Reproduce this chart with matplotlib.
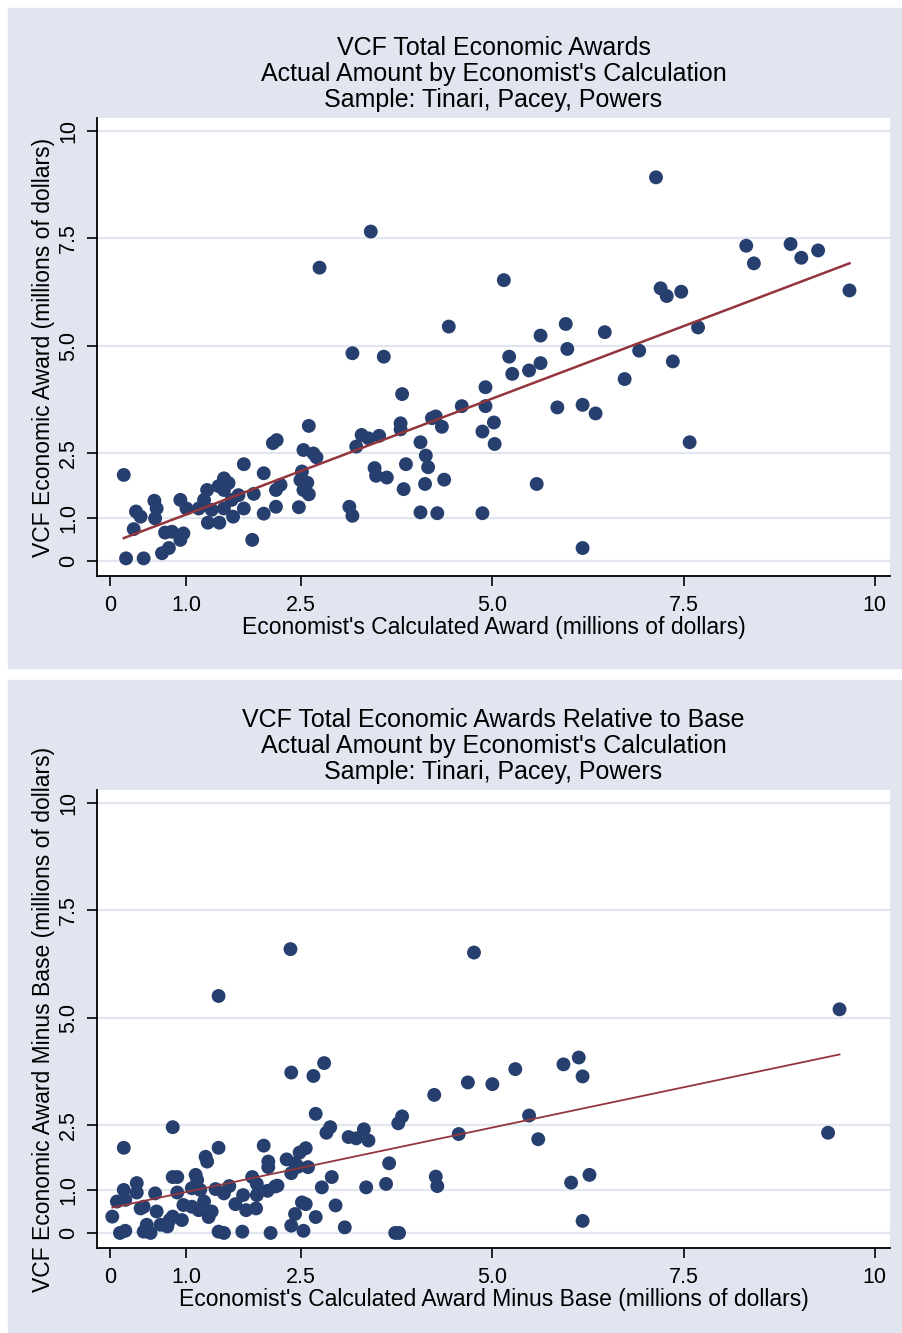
import matplotlib.pyplot as plt
from matplotlib.patches import Rectangle
import numpy as np

plt.rcParams['font.family'] = ['Liberation Sans', 'DejaVu Sans']

# top panel: economist's calculated award vs actual VCF award (millions of dollars)
calc_award = [0.18, 0.21, 0.44, 0.31, 0.34, 0.40, 0.58, 0.61, 0.59, 0.68,
              0.77, 0.72, 0.81, 0.92, 0.96, 0.92, 1.00, 1.16, 1.27, 1.23,
              1.33, 1.28, 1.43, 1.42, 1.49, 1.55, 1.49, 1.49, 1.59, 1.68,
              1.61, 1.75, 1.75, 1.86, 1.88, 2.01, 2.01, 2.18, 2.13, 2.17,
              2.23, 2.17, 2.47, 2.53, 2.60, 2.66, 2.70, 2.51, 2.49, 2.58,
              2.53, 2.60, 3.41, 2.74, 4.43, 5.15, 5.63, 3.17, 3.58, 5.22,
              5.63, 5.26, 5.48, 3.82, 4.91, 4.60, 4.91, 5.02, 4.87, 5.03,
              5.85, 3.80, 3.80, 4.21, 4.26, 4.34, 4.06, 4.13, 4.16, 4.12,
              4.37, 4.06, 4.28, 4.87, 5.58, 3.87, 3.84, 3.46, 3.48, 3.62,
              3.13, 3.17, 3.29, 3.38, 3.52, 3.22, 7.14, 8.32, 8.42, 8.90,
              9.04, 9.26, 9.67, 7.20, 7.28, 7.47, 7.69, 5.96, 6.47, 5.98,
              6.92, 7.36, 6.73, 6.18, 6.35, 7.58, 6.18]
vcf_award = [2.00, 0.06, 0.06, 0.74, 1.15, 1.03, 1.40, 1.22, 0.99, 0.18,
             0.30, 0.66, 0.68, 0.49, 0.64, 1.42, 1.22, 1.22, 1.65, 1.42,
             1.19, 0.89, 0.89, 1.74, 1.92, 1.81, 1.65, 1.22, 1.42, 1.53,
             1.03, 1.22, 2.25, 0.49, 1.56, 2.04, 1.10, 2.81, 2.74, 1.65,
             1.77, 1.26, 1.25, 2.58, 3.14, 2.50, 2.41, 2.08, 1.88, 1.82,
             1.65, 1.55, 7.66, 6.82, 5.45, 6.53, 5.24, 4.83, 4.75, 4.75,
             4.60, 4.35, 4.43, 3.88, 4.04, 3.60, 3.60, 3.22, 3.01, 2.72,
             3.57, 3.20, 3.06, 3.32, 3.36, 3.12, 2.76, 2.45, 2.18, 1.79,
             1.89, 1.13, 1.11, 1.11, 1.79, 2.25, 1.67, 2.16, 1.98, 1.94,
             1.26, 1.05, 2.93, 2.85, 2.91, 2.66, 8.92, 7.33, 6.92, 7.37,
             7.05, 7.22, 6.29, 6.34, 6.16, 6.26, 5.43, 5.51, 5.32, 4.93,
             4.89, 4.64, 4.23, 3.63, 3.43, 2.76, 0.30]

# bottom panel: same awards minus base
calc_minus_base = [0.82, 0.18, 1.42, 2.01, 1.25, 1.27, 2.07, 2.07, 0.35, 0.18,
                   0.35, 0.09, 0.20, 0.03, 0.40, 0.44, 0.59, 0.61, 0.82, 0.88,
                   0.88, 1.12, 1.14, 1.07, 1.18, 0.96, 1.07, 1.16, 1.23, 1.33,
                   1.29, 0.82, 0.78, 0.94, 0.66, 0.48, 0.44, 0.53, 0.13, 0.20,
                   0.75, 1.42, 1.49, 1.73, 2.10, 1.38, 1.49, 1.56, 1.74, 1.64,
                   1.78, 1.91, 1.86, 1.92, 1.92, 2.06, 2.16, 2.80, 2.37, 2.66,
                   4.24, 2.69, 3.82, 3.77, 2.88, 2.83, 3.32, 3.12, 3.22, 3.38,
                   4.56, 2.56, 2.48, 2.31, 2.42, 2.46, 2.59, 2.37, 3.65, 2.90,
                   2.77, 2.19, 3.35, 3.61, 4.26, 4.28, 2.51, 2.56, 2.95, 2.42,
                   2.69, 2.37, 2.53, 3.07, 3.73, 3.78, 4.68, 5.00, 5.30, 5.93,
                   6.13, 6.18, 5.48, 5.60, 6.03, 6.27, 6.18, 1.42, 2.36, 4.76,
                   9.54, 9.39]
vcf_minus_base = [2.46, 1.98, 1.98, 2.03, 1.77, 1.66, 1.66, 1.53, 1.16, 1.00,
                  0.94, 0.73, 0.77, 0.38, 0.57, 0.61, 0.92, 0.50, 1.30, 1.30,
                  0.94, 1.35, 1.23, 1.04, 1.00, 0.65, 0.61, 0.53, 0.73, 0.50,
                  0.37, 0.38, 0.30, 0.30, 0.19, 0.19, 0.03, 0.00, 0.00, 0.05,
                  0.15, 0.03, 0.00, 0.03, 0.00, 1.02, 0.92, 1.09, 0.88, 0.67,
                  0.53, 0.57, 1.30, 1.14, 0.88, 0.98, 1.08, 3.95, 3.73, 3.65,
                  3.21, 2.77, 2.71, 2.55, 2.46, 2.33, 2.41, 2.23, 2.20, 2.15,
                  2.30, 1.97, 1.87, 1.71, 1.62, 1.54, 1.53, 1.39, 1.62, 1.30,
                  1.06, 1.10, 1.06, 1.14, 1.31, 1.09, 0.71, 0.67, 0.64, 0.44,
                  0.37, 0.17, 0.05, 0.13, 0.00, 0.00, 3.50, 3.46, 3.81, 3.92,
                  4.08, 3.64, 2.73, 2.18, 1.17, 1.35, 0.28, 5.51, 6.60, 6.52,
                  5.20, 2.33]

tick_vals = [0, 1.0, 2.5, 5.0, 7.5, 10]
tick_text = ['0', '1.0', '2.5', '5.0', '7.5', '10']

titles = ["VCF Total Economic Awards\nActual Amount by Economist's Calculation\nSample: Tinari, Pacey, Powers",
          "VCF Total Economic Awards Relative to Base\nActual Amount by Economist's Calculation\nSample: Tinari, Pacey, Powers"]
xlabels = ["Economist's Calculated Award (millions of dollars)",
           "Economist's Calculated Award Minus Base (millions of dollars)"]
ylabels = ["VCF Economic Award (millions of dollars)",
           "VCF Economic Award Minus Base (millions of dollars)"]

navy = '#263f6e'
maroon = '#93353c'
bg = '#e0e5ef'
gridc = '#e2e6ef'

W, H = 902, 1333
fig = plt.figure(figsize=(W / 100, H / 100), dpi=100)
fig.patches.append(Rectangle((8 / W, 1 - 668 / H), (W - 8) / W, 660 / H,
                             transform=fig.transFigure, color=bg, zorder=-5))
fig.patches.append(Rectangle((8 / W, 0), (W - 8) / W, 1 - 680 / H,
                             transform=fig.transFigure, color=bg, zorder=-5))

ax1 = fig.add_axes([97 / W, 1 - 576 / H, 793 / W, 458 / H])
ax2 = fig.add_axes([97 / W, 1 - 1248 / H, 793 / W, 458 / H])


def panel(ax, x, y, title, xl, yl, lw):
    x = np.array(x)
    y = np.array(y)
    ax.scatter(x, y, s=100, color=navy, edgecolors='none', zorder=3)
    b, a = np.polyfit(x, y, 1)
    xs = np.array([x.min(), x.max()])
    ax.plot(xs, a + b * xs, color=maroon, lw=lw, zorder=4)
    ax.set_xlim(-0.17, 10.2)
    ax.set_ylim(-0.35, 10.3)
    ax.set_xticks(tick_vals)
    ax.set_xticklabels(tick_text)
    ax.set_yticks(tick_vals)
    ax.set_yticklabels(tick_text, rotation=90, va='center')
    ax.yaxis.grid(True, color=gridc, lw=1.6)
    ax.set_axisbelow(True)
    for s in ['top', 'right']:
        ax.spines[s].set_visible(False)
    for s in ['left', 'bottom']:
        ax.spines[s].set_linewidth(1.3)
    ax.tick_params(axis='both', length=7, width=1.2, labelsize=15.5)
    ax.tick_params(axis='x', pad=7)
    ax.tick_params(axis='y', pad=6)
    ax.set_title(title, fontsize=18, linespacing=1.1, pad=8)
    ax.set_xlabel(xl, fontsize=16.5, labelpad=0)
    ax.set_ylabel(yl, fontsize=16.5, labelpad=2)


panel(ax1, calc_award, vcf_award, titles[0], xlabels[0], ylabels[0], 1.8)
panel(ax2, calc_minus_base, vcf_minus_base, titles[1], xlabels[1], ylabels[1], 1.3)

fig.savefig('out.png', dpi=100, facecolor='white')
